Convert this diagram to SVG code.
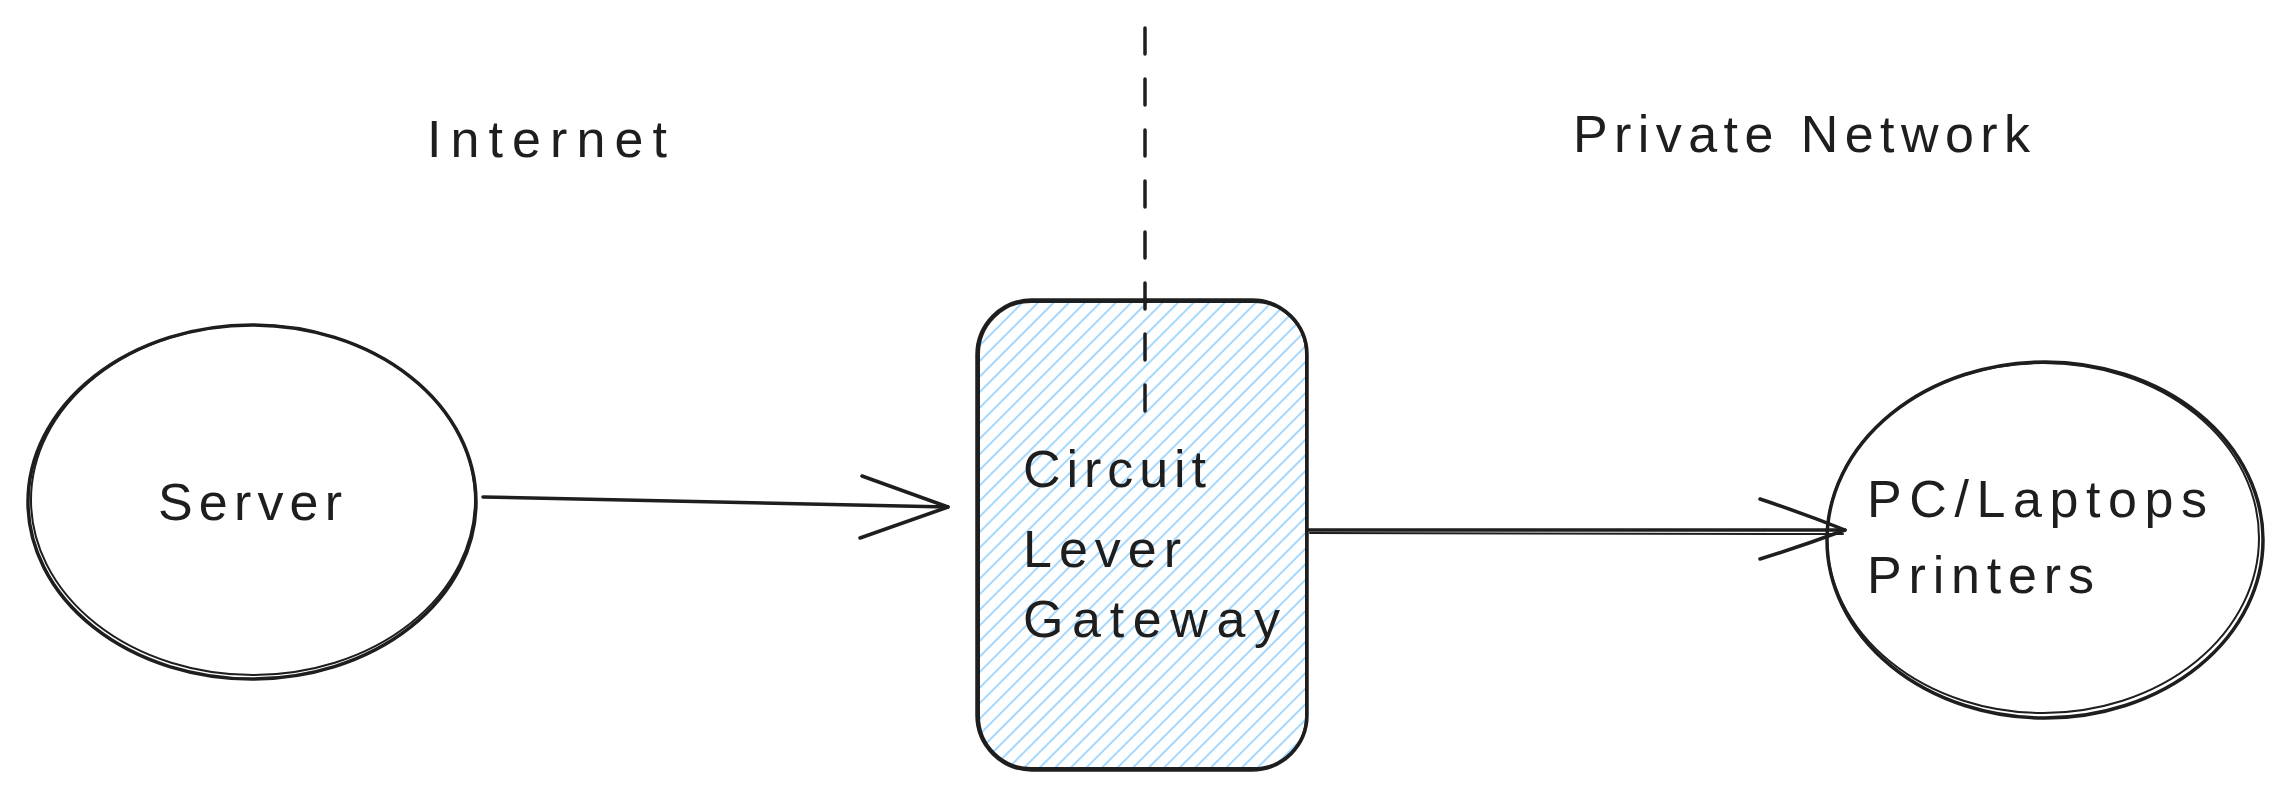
<svg xmlns="http://www.w3.org/2000/svg" width="2289" height="799" viewBox="0 0 2289 799">
<style>
.ink{fill:none;stroke:#1e1e1e;stroke-width:3.5;stroke-linecap:round;stroke-linejoin:round}
.thin{fill:none;stroke:#1e1e1e;stroke-width:2;stroke-linecap:round}
.lbl{font-family:"Liberation Sans","DejaVu Sans",sans-serif;font-size:52px;fill:#1e1e1e}
</style>
<defs>
<pattern id="hatch" patternUnits="userSpaceOnUse" width="11" height="11" patternTransform="rotate(45)">
<line x1="2" y1="0" x2="2" y2="11" stroke="#a5d8ff" stroke-width="2"/>
</pattern>
</defs>
<rect width="2289" height="799" fill="#ffffff"/>
<g id="labels">
<text class="lbl" x="427" y="157" textLength="240" lengthAdjust="spacing">Internet</text>
<text class="lbl" x="1573" y="152" textLength="457" lengthAdjust="spacing">Private Network</text>
</g>
<g id="server">
<ellipse cx="252" cy="502" rx="224" ry="177" class="ink"/>
<ellipse cx="253" cy="500" rx="222" ry="175" class="thin"/>
<text class="lbl" x="158" y="520" textLength="184" lengthAdjust="spacing">Server</text>
</g>
<g id="gateway">
<rect x="977" y="300" width="330" height="470" rx="55" ry="55" fill="url(#hatch)"/>
<rect x="977" y="300" width="330" height="470" rx="55" ry="55" class="ink"/>
<rect x="979" y="302" width="327" height="466" rx="52" ry="52" class="thin"/>
<text class="lbl" x="1023" y="487" textLength="183" lengthAdjust="spacing">Circuit</text>
<text class="lbl" x="1023" y="567" textLength="158" lengthAdjust="spacing">Lever</text>
<text class="lbl" x="1023" y="637" textLength="257" lengthAdjust="spacing">Gateway</text>
</g>
<g id="clients">
<ellipse cx="2045" cy="540" rx="218" ry="178" class="ink"/>
<ellipse cx="2043" cy="538" rx="216" ry="175" class="thin"/>
<text class="lbl" x="1867" y="517" textLength="340" lengthAdjust="spacing">PC/Laptops</text>
<text class="lbl" x="1867" y="593" textLength="227" lengthAdjust="spacing">Printers</text>
</g>
<g id="connectors">
<line x1="1145" y1="28" x2="1145" y2="412" class="ink" stroke-dasharray="26 25"/>
<path d="M483 497 L948 507" class="ink"/>
<path d="M862 476 L948 507 L860 538" class="ink"/>
<path d="M1308 530 L1845 530" class="ink"/>
<path d="M1310 533 L1843 534" class="thin"/>
<path d="M1760 499 Q1805 514 1845 530 Q1805 545 1760 559" class="ink"/>
</g>
</svg>
